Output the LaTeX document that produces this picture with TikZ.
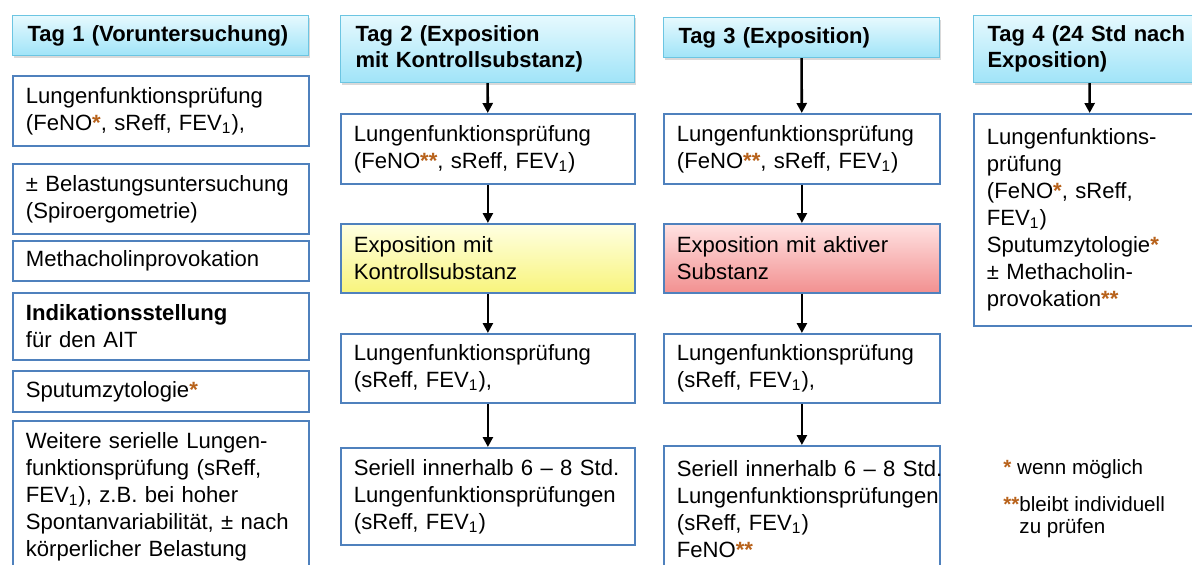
\documentclass[tikz,border=0pt]{standalone}
\usepackage{fontspec}
\setmainfont{Liberation Sans}
\usetikzlibrary{arrows.meta,shadows}

\definecolor{boxblue}{HTML}{4F81BD}
\definecolor{headline}{HTML}{6CC5E2}
\definecolor{headtop}{HTML}{E6F9FE}
\definecolor{headbot}{HTML}{A0E4F8}
\definecolor{yeltop}{HTML}{FFFFE2}
\definecolor{yelbot}{HTML}{F8F47C}
\definecolor{redtop}{HTML}{FFE2E2}
\definecolor{redbot}{HTML}{F29090}
\definecolor{ast}{HTML}{B8621B}

\hyphenpenalty=10000
\exhyphenpenalty=10000

\newcommand{\onestar}{\textcolor{ast}{\textbf{*}}}
\newcommand{\twostar}{\textcolor{ast}{\textbf{**}}}
\newcommand{\fev}{FEV\textsubscript{1}}

\begin{document}
\begin{tikzpicture}[x=0.5pt,y=-0.5pt,>={Triangle[length=5pt,width=5pt]},
	head/.style={draw=headline,line width=0.5pt,top color=headtop,bottom color=headbot,
		drop shadow={shadow xshift=0.6pt,shadow yshift=-1.3pt,opacity=0.3},
		anchor=north west,align=left,inner xsep=7.5pt,inner ysep=1pt,
		font=\fontsize{11}{13}\selectfont\bfseries},
	box/.style={draw=boxblue,line width=0.9pt,fill=white,anchor=north west,
		align=left,inner xsep=6.5pt,inner ysep=1pt,font=\fontsize{11.05}{13.5}\selectfont},
	colA/.style={minimum width=148pt,text width=135pt},
	colB/.style={minimum width=147pt,text width=134pt},
	colC/.style={minimum width=138pt,text width=125pt},
	colD/.style={minimum width=116pt,text width=103pt},
	legend/.style={anchor=base west,inner sep=0pt,align=left,font=\fontsize{10.3}{11}\selectfont}]

\useasboundingbox (0,0) rectangle (1192,564);

% Tag 1
\node [head,minimum width=148pt,text width=133pt,minimum height=20pt] (t1) at (12,15) {Tag 1 (Voruntersuchung)};
\node [box,colA,minimum height=35pt] (a1) at (12,75) {Lungenfunktionsprüfung\\(FeNO\onestar, sReff, \fev),};
\node [box,colA,minimum height=35pt] (a2) at (12,163) {± Belastungsuntersuchung\\(Spiroergometrie)};
\node [box,colA,minimum height=20pt] (a3) at (12,240) {Methacholinprovokation};
\node [box,colA,minimum height=33.5pt] (a4) at (12,292) {\textbf{Indikationsstellung}\\für den AIT};
\node [box,colA,minimum height=20.5pt] (a5) at (12,370) {Sputumzytologie\onestar};
\node [box,colA,minimum height=76pt] (a6) at (12,420) {Weitere serielle Lungen-\\funktionsprüfung (sReff,\\\fev), z.B. bei hoher\\Spontanvariabilität, ± nach\\körperlicher Belastung};

% Tag 2
\node [head,minimum width=147pt,text width=132pt,minimum height=33.5pt] (t2) at (340,15) {Tag 2 (Exposition\\mit Kontrollsubstanz)};
\node [box,colB,minimum height=35pt] (b1) at (340,113) {Lungenfunktionsprüfung\\(FeNO\twostar, sReff, \fev)};
\node [box,colB,minimum height=34.5pt,draw=boxblue,top color=yeltop,bottom color=yelbot] (b2) at (340,223) {Exposition mit\\Kontrollsubstanz};
\node [box,colB,minimum height=34.5pt] (b3) at (340,333) {Lungenfunktionsprüfung\\(sReff, \fev),};
\node [box,colB,minimum height=48.5pt] (b4) at (340,447) {Seriell~innerhalb~6~–~8~Std.\\Lungenfunktionsprüfungen\\(sReff, \fev)};

% Tag 3
\node [head,minimum width=138pt,text width=123pt,minimum height=20pt] (t3) at (663,17) {Tag 3 (Exposition)};
\node [box,colC,minimum height=35pt] (c1) at (663,113) {Lungenfunktionsprüfung\\(FeNO\twostar, sReff, \fev)};
\node [box,colC,minimum height=34.5pt,draw=boxblue,top color=redtop,bottom color=redbot] (c2) at (663,223) {Exposition mit aktiver\\Substanz};
\node [box,colC,minimum height=34.5pt] (c3) at (663,333) {Lungenfunktionsprüfung\\(sReff, \fev),};
\node [box,colC,minimum height=63pt] (c4) at (663,445) {Seriell~innerhalb~6~–~8~Std.\\Lungenfunktionsprüfungen\\(sReff, \fev)\\FeNO\twostar};

% Tag 4
\node [head,minimum width=116pt,text width=102pt,minimum height=33.5pt,inner xsep=7pt] (t4) at (973,15) {Tag 4 (24 Std nach\\Exposition)};
\node [box,colD,minimum height=106pt] (d1) at (973,113) {Lungenfunktions-\\prüfung\\(FeNO\onestar, sReff,\\\fev)\\Sputumzytologie\onestar\\± Methacholin-\\provokation\twostar};

% Legende
\node [legend] (l1) at (1003,474) {\onestar\ wenn möglich};
\node [legend] (l2) at (1003,511) {\twostar\begin{tabular}[t]{@{}l@{}}bleibt individuell\\zu prüfen\end{tabular}};

\path[->,line width=1.3pt]
	(t2) edge (b1)
	(b1) edge (b2)
	(b2) edge (b3)
	(b3) edge (b4)
	(t3) edge (c1)
	(c1) edge (c2)
	(c2) edge (c3)
	(c3) edge (c4)
	(t4) edge (d1)
;

\end{tikzpicture}
\end{document}
